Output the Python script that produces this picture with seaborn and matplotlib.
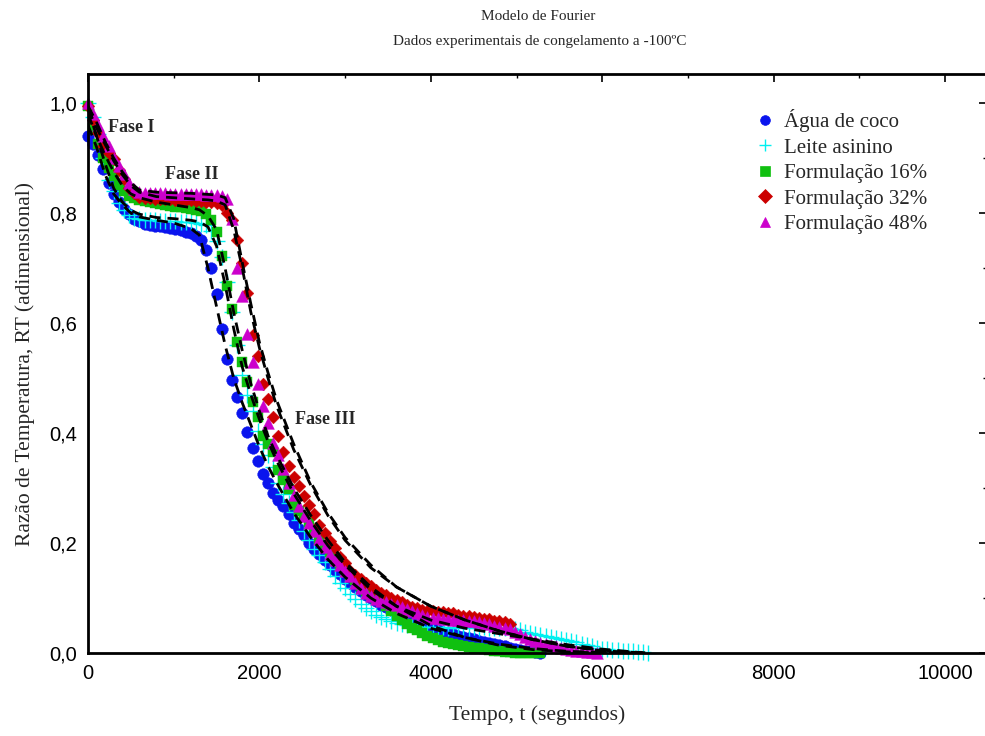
import numpy as np
import pandas as pd
import matplotlib
matplotlib.use("Agg")
import matplotlib.pyplot as plt
import seaborn as sns
from matplotlib.ticker import MultipleLocator, FuncFormatter

# ---------------- data ----------------
DT = 60  # sampling interval (s)
rt_agua = [0.940, 0.925, 0.905, 0.880, 0.855, 0.835, 0.820, 0.808, 0.798, 0.790,
           0.785, 0.781, 0.779, 0.777, 0.776, 0.775, 0.773, 0.771, 0.769, 0.766,
           0.763, 0.758, 0.751, 0.733, 0.700, 0.652, 0.590, 0.535, 0.496, 0.465,
           0.436, 0.402, 0.373, 0.350, 0.326, 0.309, 0.291, 0.279, 0.268, 0.253,
           0.237, 0.226, 0.214, 0.200, 0.190, 0.180, 0.170, 0.160, 0.151, 0.143,
           0.135, 0.127, 0.120, 0.113, 0.106, 0.100, 0.094, 0.088, 0.083, 0.078,
           0.073, 0.069, 0.064, 0.060, 0.056, 0.052, 0.049, 0.045, 0.042, 0.039,
           0.036, 0.034, 0.031, 0.029, 0.027, 0.025, 0.022, 0.020, 0.018, 0.016,
           0.014, 0.012, 0.010, 0.008, 0.006, 0.004, 0.003, 0.001, 0.000]
rt_leite = [1.000, 0.975, 0.943, 0.900, 0.860, 0.840, 0.818, 0.805, 0.797, 0.792,
            0.789, 0.788, 0.787, 0.787, 0.786, 0.786, 0.785, 0.785, 0.784, 0.784,
            0.783, 0.782, 0.781, 0.778, 0.768, 0.750, 0.720, 0.675, 0.620, 0.560,
            0.505, 0.470, 0.440, 0.403, 0.380, 0.360, 0.338, 0.310, 0.290, 0.272,
            0.257, 0.242, 0.222, 0.205, 0.190, 0.178, 0.165, 0.152, 0.140, 0.128,
            0.118, 0.108, 0.098, 0.090, 0.082, 0.076, 0.070, 0.065, 0.061, 0.058,
            0.055, 0.053, 0.051, 0.050, 0.049, 0.048, 0.047, 0.047, 0.046, 0.047,
            0.046, 0.047, 0.046, 0.047, 0.046, 0.047, 0.046, 0.047, 0.046, 0.046,
            0.046, 0.045, 0.045, 0.043, 0.041, 0.039, 0.037, 0.035, 0.033, 0.031,
            0.029, 0.027, 0.025, 0.024, 0.022, 0.020, 0.017, 0.014, 0.012, 0.010,
            0.008, 0.007, 0.006, 0.005, 0.004, 0.003, 0.003, 0.002, 0.001, 0.000]
rt_f16 = [0.995, 0.955, 0.925, 0.900, 0.882, 0.868, 0.852, 0.840, 0.832, 0.828,
          0.824, 0.822, 0.820, 0.818, 0.816, 0.815, 0.813, 0.812, 0.811, 0.810,
          0.808, 0.806, 0.804, 0.799, 0.787, 0.765, 0.722, 0.668, 0.625, 0.565,
          0.530, 0.492, 0.457, 0.430, 0.395, 0.380, 0.366, 0.333, 0.315, 0.298,
          0.270, 0.258, 0.248, 0.238, 0.220, 0.207, 0.195, 0.183, 0.172, 0.162,
          0.152, 0.142, 0.132, 0.122, 0.113, 0.105, 0.099, 0.094, 0.085, 0.076,
          0.068, 0.060, 0.052, 0.046, 0.041, 0.036, 0.031, 0.027, 0.024, 0.020,
          0.018, 0.016, 0.014, 0.012, 0.011, 0.010, 0.009, 0.007, 0.006, 0.004,
          0.003, 0.002, 0.001, 0.000, 0.000, 0.000, 0.000, 0.000, 0.000]
rt_f32 = [0.995, 0.970, 0.945, 0.922, 0.910, 0.898, 0.878, 0.862, 0.846, 0.836,
          0.830, 0.828, 0.827, 0.826, 0.826, 0.825, 0.825, 0.824, 0.824, 0.823,
          0.823, 0.822, 0.822, 0.821, 0.820, 0.818, 0.815, 0.800, 0.787, 0.752,
          0.710, 0.655, 0.578, 0.540, 0.490, 0.462, 0.430, 0.395, 0.365, 0.340,
          0.320, 0.303, 0.285, 0.270, 0.252, 0.232, 0.218, 0.203, 0.191, 0.174,
          0.163, 0.150, 0.142, 0.135, 0.128, 0.121, 0.115, 0.110, 0.105, 0.100,
          0.096, 0.092, 0.088, 0.084, 0.081, 0.079, 0.077, 0.076, 0.075, 0.074,
          0.073, 0.072, 0.070, 0.068, 0.067, 0.066, 0.064, 0.062, 0.061, 0.059,
          0.058, 0.056, 0.053]
rt_f48 = [1.000, 0.980, 0.960, 0.940, 0.922, 0.900, 0.885, 0.872, 0.855, 0.843,
          0.838, 0.837, 0.836, 0.836, 0.836, 0.836, 0.835, 0.835, 0.835, 0.835,
          0.834, 0.834, 0.834, 0.833, 0.833, 0.833, 0.832, 0.825, 0.790, 0.700,
          0.650, 0.580, 0.530, 0.490, 0.450, 0.418, 0.382, 0.360, 0.335, 0.310,
          0.288, 0.268, 0.250, 0.236, 0.222, 0.207, 0.193, 0.180, 0.170, 0.160,
          0.150, 0.140, 0.128, 0.118, 0.110, 0.104, 0.099, 0.095, 0.092, 0.089,
          0.087, 0.084, 0.080, 0.076, 0.072, 0.069, 0.066, 0.064, 0.063, 0.062,
          0.061, 0.060, 0.060, 0.060, 0.059, 0.058, 0.056, 0.054, 0.052, 0.050,
          0.048, 0.046, 0.043, 0.038, 0.034, 0.030, 0.026, 0.022, 0.019, 0.016,
          0.014, 0.012, 0.010, 0.008, 0.006, 0.004, 0.003, 0.002, 0.001, 0.000]

# Fourier model curves (dashed)
t_fit = [0, 100, 200, 300, 400, 500, 600, 800, 1000, 1200, 1300, 1400, 1500, 1600,
         1700, 1800, 1900, 2000, 2100, 2200, 2400, 2600, 2800, 3000, 3300, 3600,
         4000, 4400, 4800, 5200, 5600, 6000, 6500]
fit_agua = [0.960, 0.920, 0.870, 0.835, 0.815, 0.800, 0.793, 0.787, 0.782, 0.772, 0.760,
            0.700, 0.630, 0.560, 0.500, 0.455, 0.415, 0.375, 0.340, 0.310, 0.255, 0.210,
            0.170, 0.138, 0.100, 0.072, 0.045, 0.028, 0.016, 0.008, 0.003, 0.001, 0.000]
fit_leite = [0.980, 0.940, 0.890, 0.845, 0.820, 0.805, 0.798, 0.792, 0.790, 0.787, 0.784,
             0.775, 0.740, 0.670, 0.590, 0.520, 0.470, 0.425, 0.385, 0.350, 0.290, 0.240,
             0.195, 0.160, 0.115, 0.085, 0.060, 0.045, 0.035, 0.025, 0.015, 0.007, 0.000]
fit_f16 = [0.990, 0.940, 0.905, 0.875, 0.850, 0.835, 0.828, 0.820, 0.815, 0.810, 0.806,
           0.795, 0.770, 0.700, 0.620, 0.550, 0.490, 0.440, 0.395, 0.360, 0.300, 0.250,
           0.205, 0.165, 0.120, 0.085, 0.050, 0.028, 0.014, 0.006, 0.002, 0.000, 0.000]
fit_f32 = [0.990, 0.955, 0.925, 0.895, 0.870, 0.850, 0.838, 0.830, 0.828, 0.826, 0.825,
           0.824, 0.822, 0.815, 0.770, 0.700, 0.620, 0.555, 0.500, 0.450, 0.370, 0.305,
           0.250, 0.205, 0.155, 0.120, 0.085, 0.060, 0.040, 0.024, 0.012, 0.005, 0.000]
fit_f48 = [0.995, 0.965, 0.930, 0.900, 0.875, 0.855, 0.842, 0.838, 0.837, 0.836, 0.835,
           0.834, 0.833, 0.828, 0.790, 0.710, 0.635, 0.565, 0.510, 0.460, 0.380, 0.310,
           0.255, 0.210, 0.160, 0.120, 0.085, 0.060, 0.040, 0.024, 0.012, 0.004, 0.000]

labels = ["Água de coco", "Leite asinino", "Formulação 16%", "Formulação 32%", "Formulação 48%"]
series = [rt_agua, rt_leite, rt_f16, rt_f32, rt_f48]
fits = [fit_agua, fit_leite, fit_f16, fit_f32, fit_f48]
colors = ["#0a14ee", "#00f0f0", "#10c010", "#cc0000", "#cc00cc"]
markers = ["o", "+", "s", "D", "^"]
sizes = [70, 120, 55, 42, 72]

# ---------------- plot ----------------
sns.set_theme(style="white")
plt.rcParams["font.family"] = ["Liberation Serif", "DejaVu Serif"]

fig = plt.figure(figsize=(9.85, 7.36), dpi=100)
ax = fig.add_axes([88 / 985, 83 / 736, 899 / 985, 579 / 736])

handles = []
for rt, lab, col, mk, sz in zip(series, labels, colors, markers, sizes):
    df = pd.DataFrame({"t": np.arange(len(rt)) * DT, "RT": rt})
    if mk == "+":
        sns.scatterplot(data=df, x="t", y="RT", ax=ax, marker="+", color=col,
                        s=sz, linewidth=1.0, zorder=2, clip_on=False)
    else:
        sns.scatterplot(data=df, x="t", y="RT", ax=ax, marker=mk, color=col,
                        s=sz, edgecolor=col, linewidth=0.3, zorder=2, clip_on=False)
    handles.append(plt.Line2D([], [], linestyle="none", marker=mk, color=col,
                              markerfacecolor=col, markeredgecolor=col,
                              markersize=7 if mk != "+" else 9,
                              markeredgewidth=1.0 if mk == "+" else 0.5))

for fv in fits:
    dff = pd.DataFrame({"t": t_fit, "RT": fv})
    sns.lineplot(data=dff, x="t", y="RT", ax=ax, color="black", linewidth=2.0,
                 linestyle=(0, (4, 2.5)), zorder=3)

ax.set_xlim(0, 10490)
ax.set_ylim(0, 1.053)
ax.xaxis.set_major_locator(MultipleLocator(2000))
ax.xaxis.set_minor_locator(MultipleLocator(1000))
ax.yaxis.set_major_locator(MultipleLocator(0.2))
ax.yaxis.set_minor_locator(MultipleLocator(0.1))
ax.yaxis.set_major_formatter(FuncFormatter(lambda v, p: f"{v:.1f}".replace(".", ",")))
ax.xaxis.set_major_formatter(FuncFormatter(lambda v, p: f"{int(round(v))}"))
ax.tick_params(which="both", direction="in", top=True, right=True, colors="black")
ax.tick_params(which="major", length=6, width=1.2, labelsize=14.5, pad=8)
ax.tick_params(which="minor", length=3, width=1.0)
for lab in ax.get_xticklabels() + ax.get_yticklabels():
    lab.set_family(["Liberation Sans", "DejaVu Sans"])
for sp in ax.spines.values():
    sp.set_color("black")
    sp.set_linewidth(2)

ax.set_xlabel("Tempo, t (segundos)", fontsize=15.5, labelpad=16)
ax.set_ylabel("Razão de Temperatura, RT (adimensional)", fontsize=15.5, labelpad=10)

fig.text(538 / 985, 1 - 16 / 736, "Modelo de Fourier", ha="center", va="center", fontsize=11)
fig.text(540 / 985, 1 - 42 / 736, "Dados experimentais de congelamento a -100ºC",
         ha="center", va="center", fontsize=11)

ax.text(233, 0.955, "Fase I", fontsize=13, fontweight="bold", va="center", ha="left")
ax.text(898, 0.871, "Fase II", fontsize=13, fontweight="bold", va="center", ha="left")
ax.text(2415, 0.424, "Fase III", fontsize=13, fontweight="bold", va="center", ha="left")

leg = ax.legend(handles, labels, loc="upper left", bbox_to_anchor=(744 / 985, 1 - 101 / 736),
                bbox_transform=fig.transFigure, frameon=False, fontsize=15,
                handletextpad=0.3, labelspacing=0.28, handlelength=1.2, borderaxespad=0)

fig.savefig("out.png", dpi=100)
